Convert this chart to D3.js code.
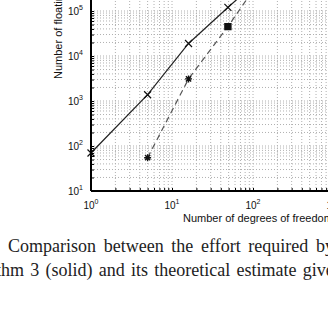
<!DOCTYPE html>
<html lang="en">
<head>
    <meta charset="UTF-8">
    <title>Effort vs degrees of freedom</title>
    <script src="https://d3js.org/d3.v7.min.js"></script>
    <style>
        html, body { margin: 0; padding: 0; background: #fff; }
        svg { width: 328px; height: 333px; display: block; }
    </style>
</head>
<body>
    <svg>
        <g class="chart"></g>
    </svg>

    <script>
        // measured data (log-log)
        const solidDof = [1, 5, 16, 49, 129];
        const solidFlops = [70, 1380, 19000, 120000, 570000];
        const dashedDof = [5, 16, 49, 129];
        const dashedFlops = [55, 3100, 45000, 556000];
        const dashedMarks = ["star", "star", "square", "star"];

        const xDecades = [1, 10, 100, 1000];
        const yDecades = [10, 100, 1000, 10000, 100000, 1000000];

        const captionLine1 = "Comparison between the effort required by";
        const captionLine2 = "algorithm 3 (solid) and its theoretical estimate given by";

        const svg = d3.select("svg");
        const chart = d3.select(".chart");

        var xScale = d3.scaleLog().domain([1, 1000]).range([91, 334]);
        var yScale = d3.scaleLog().domain([10, 100000]).range([191, 11]);

        // minor positions 1..9 x decade
        function minors(decades) {
            var out = [];
            decades.forEach(d => { for (var k = 1; k < 10; k++) out.push(d * k); });
            return out;
        }
        const xMinor = minors(xDecades).filter(v => v <= 10000);
        const yMinor = minors(yDecades);

        // grid
        chart.append("g").selectAll("line")
            .data(xMinor.filter(v => v > 1))
            .join("line")
            .attr("x1", d => xScale(d)).attr("x2", d => xScale(d))
            .attr("y1", 191).attr("y2", -40)
            .style("stroke", "#b0b0b0").style("stroke-width", 1)
            .style("stroke-dasharray", "1,2");

        chart.append("g").selectAll("line")
            .data(yMinor.filter(v => v > 10))
            .join("line")
            .attr("x1", 91).attr("x2", 400)
            .attr("y1", d => yScale(d)).attr("y2", d => yScale(d))
            .style("stroke", "#b0b0b0").style("stroke-width", 1)
            .style("stroke-dasharray", "1,2");

        // clip for data
        svg.append("defs").append("clipPath").attr("id", "plotclip")
            .append("rect").attr("x", 91).attr("y", -50).attr("width", 400).attr("height", 241);

        var line = d3.line().x(d => xScale(d[0])).y(d => yScale(d[1]));
        const solid = solidDof.map((d, i) => [d, solidFlops[i]]);
        const dashed = dashedDof.map((d, i) => [d, dashedFlops[i]]);

        const plot = chart.append("g").attr("clip-path", "url(#plotclip)");

        plot.append("path").datum(solid).attr("d", line)
            .style("fill", "none").style("stroke", "#222").style("stroke-width", 1.2);

        plot.append("path").datum(dashed).attr("d", line)
            .style("fill", "none").style("stroke", "#555").style("stroke-width", 1.2)
            .style("stroke-dasharray", "6,4");

        // markers
        var s = 3.5;
        chart.append("g").selectAll("path")
            .data(solid)
            .join("path")
            .attr("transform", d => `translate(${xScale(d[0])},${yScale(d[1])})`)
            .attr("d", `M${-s},${-s}L${s},${s}M${-s},${s}L${s},${-s}`)
            .style("stroke", "#111").style("stroke-width", 1.2);

        chart.append("g").selectAll("path")
            .data(dashed)
            .join("path")
            .attr("transform", d => `translate(${xScale(d[0])},${yScale(d[1])})`)
            .attr("d", (d, i) => dashedMarks[i] == "square"
                ? `M-3,-3H3V3H-3Z`
                : `M-3.5,0H3.5M0,-3.5V3.5M-2.6,-2.6L2.6,2.6M-2.6,2.6L2.6,-2.6`)
            .style("fill", "#111")
            .style("stroke", "#111").style("stroke-width", 1.4);

        // axes, ticks inward
        chart.append("g")
            .attr("transform", "translate(0,191)")
            .call(d3.axisBottom(xScale).tickValues(xMinor).tickSizeInner(-3).tickSizeOuter(0).tickFormat(""))
            .call(g => g.select(".domain").attr("d", "M91,0H400").style("stroke-width", 2));

        chart.append("g")
            .attr("transform", "translate(91,0)")
            .call(d3.axisLeft(yScale).tickValues(yMinor).tickSizeInner(-3).tickSizeOuter(0).tickFormat(""))
            .call(g => g.select(".domain").attr("d", "M0,191V-50").style("stroke-width", 2));

        // tick labels with superscripts
        const font = "Liberation Sans, Arial, sans-serif";
        chart.append("g").selectAll("text")
            .data(xDecades)
            .join("text")
            .attr("x", d => xScale(d))
            .attr("y", 209)
            .attr("text-anchor", "middle")
            .style("font-family", font).style("font-size", "10px").style("fill", "#111")
            .each(function (d) {
                var t = d3.select(this);
                t.append("tspan").text("10");
                t.append("tspan").attr("dy", -5).style("font-size", "7px").text(Math.round(Math.log10(d)));
            });

        chart.append("g").selectAll("text")
            .data(yDecades)
            .join("text")
            .attr("x", 83)
            .attr("y", d => yScale(d) + 4)
            .attr("text-anchor", "end")
            .style("font-family", font).style("font-size", "10px").style("fill", "#111")
            .each(function (d) {
                var t = d3.select(this);
                t.append("tspan").text("10");
                t.append("tspan").attr("dy", -5).style("font-size", "7px").text(Math.round(Math.log10(d)));
            });

        // axis titles
        chart.append("text")
            .attr("x", 183).attr("y", 222)
            .style("font-family", font).style("font-size", "11px").style("fill", "#111")
            .text("Number of degrees of freedom");

        chart.append("text")
            .attr("transform", "translate(62,79) rotate(-90)")
            .style("font-family", font).style("font-size", "11px").style("fill", "#111")
            .text("Number of floating point operations");

        // caption (justified-ish)
        const serif = "Liberation Serif, Times New Roman, serif";
        var c1 = svg.append("text")
            .attr("x", 8).attr("y", 252)
            .style("font-family", serif).style("font-size", "18px").style("fill", "#222")
            .text(captionLine1);
        // put the start of the last word "by" at x=316
        var i1 = captionLine1.lastIndexOf(" ") + 1;
        var cur = c1.node().getStartPositionOfChar(i1).x;
        var nSp = captionLine1.slice(0, i1).split(" ").length - 1;
        c1.style("word-spacing", ((316 - cur) / nSp) + "px");

        var c2 = svg.append("text")
            .attr("y", 276)
            .style("font-family", serif).style("font-size", "18px").style("fill", "#222")
            .text(captionLine2);
        // "hm" of algorithm sits at the left edge
        var off = c2.node().getSubStringLength(0, 7);
        c2.attr("x", 1 - off);
        var ig = captionLine2.indexOf("given");
        var cur2 = c2.node().getStartPositionOfChar(ig).x;
        var nSp2 = captionLine2.slice(10, ig).split(" ").length - 1;
        c2.style("word-spacing", ((301 - cur2) / nSp2) + "px");
    </script>
</body>
</html>
